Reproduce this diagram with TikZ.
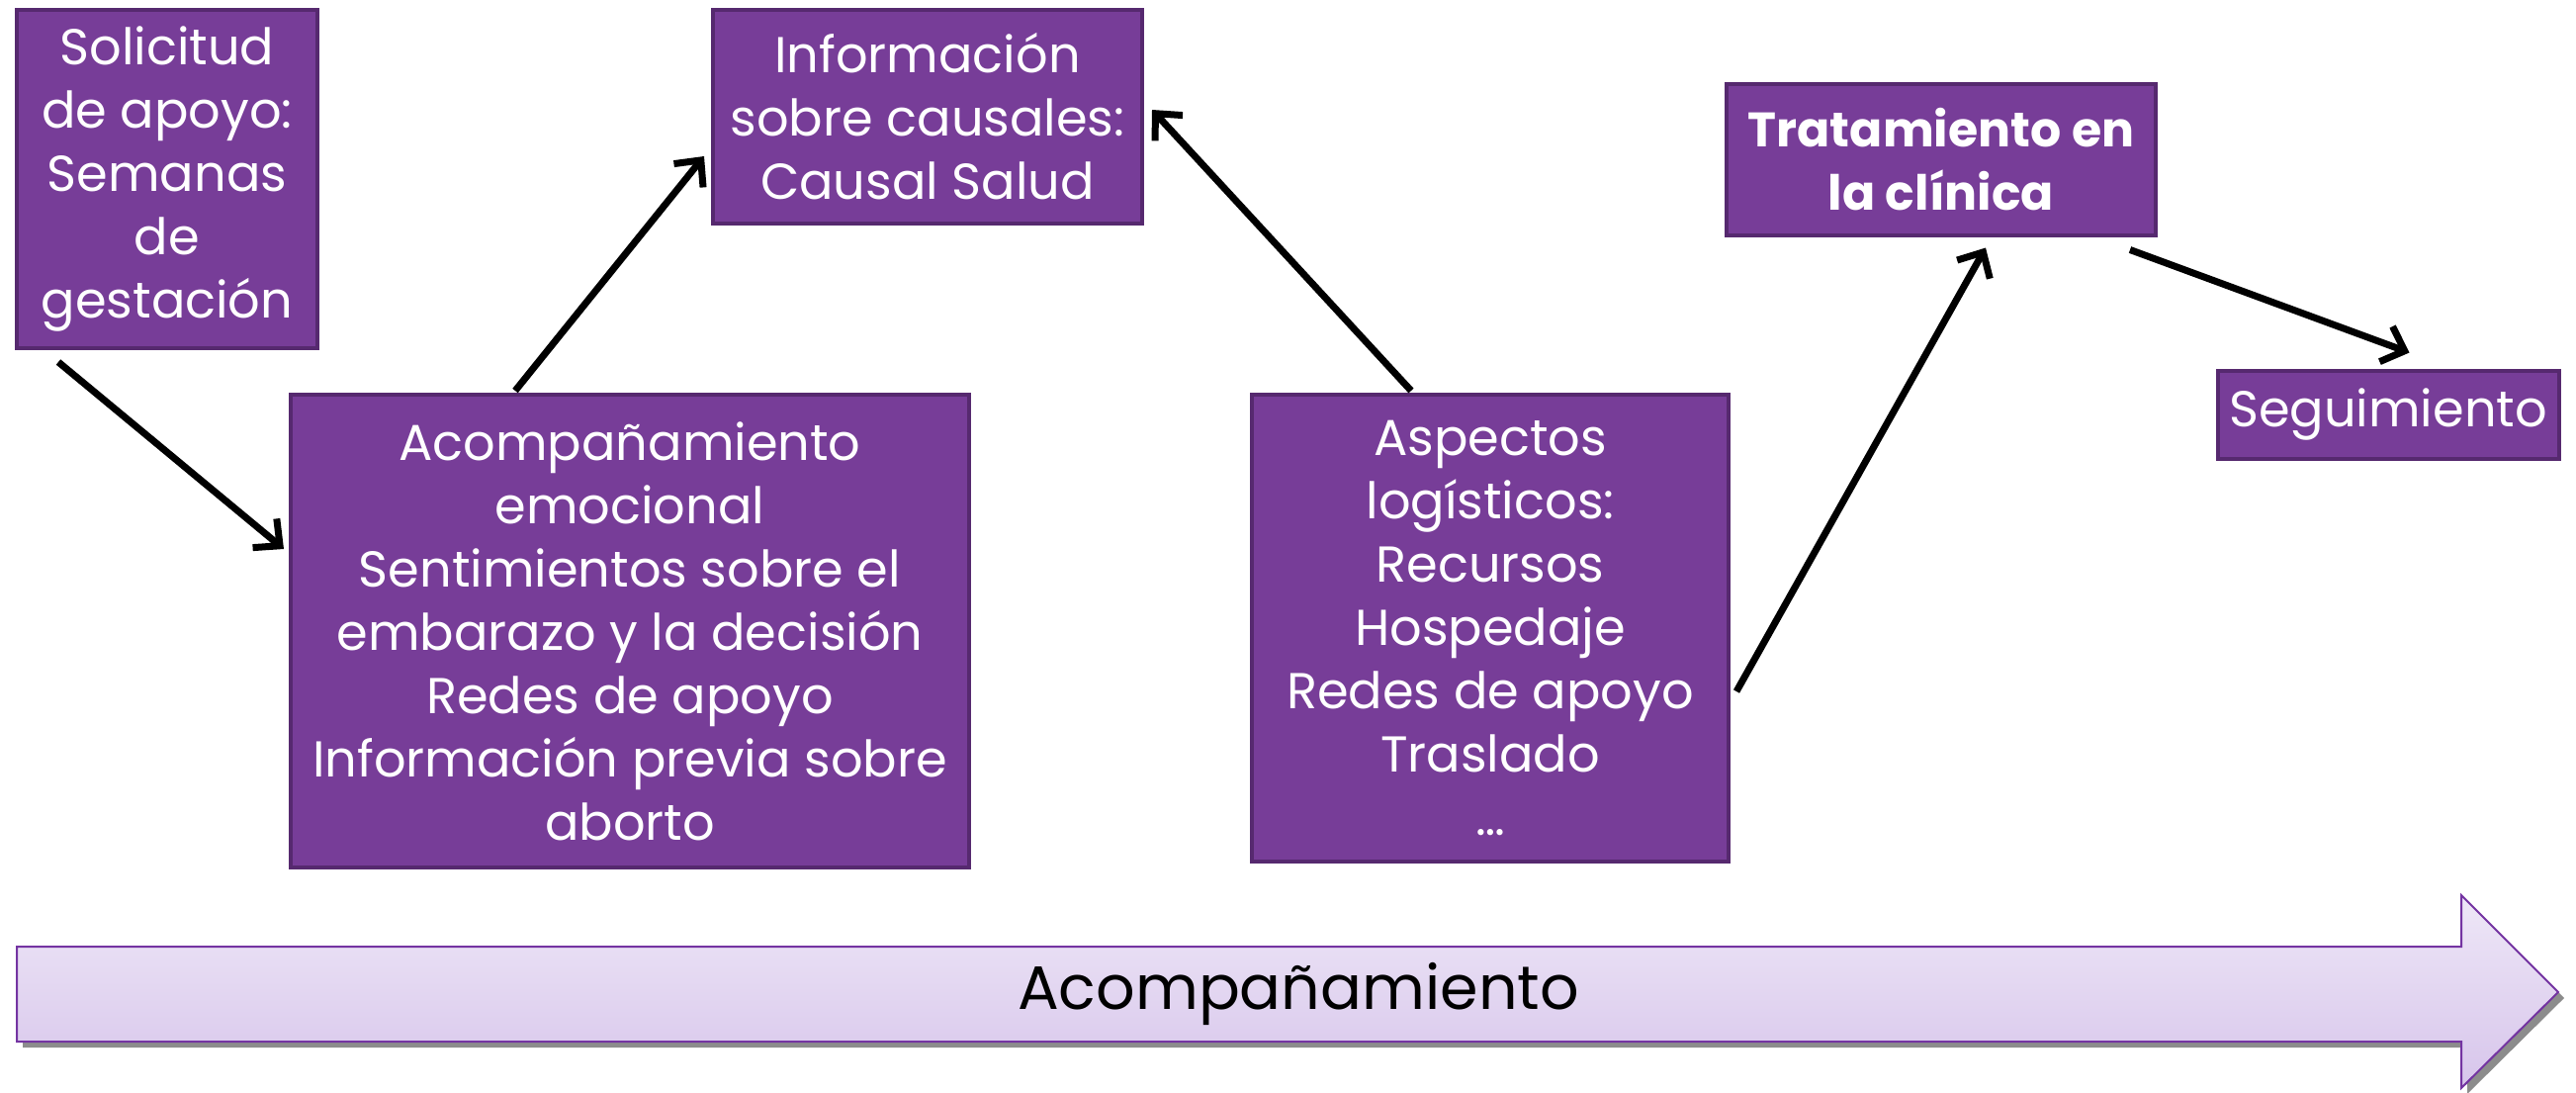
\documentclass[tikz,border=0pt]{standalone}
\usepackage{fontspec}
\setmainfont{Poppins}
\usetikzlibrary{arrows.meta,calc,shadows}
\definecolor{boxfill}{HTML}{773D98}
\definecolor{boxline}{HTML}{56296F}
\definecolor{arrtop}{HTML}{EEE7F7}
\definecolor{arrbot}{HTML}{D7C5EB}
\definecolor{arrline}{HTML}{7434A2}
\tikzset{
  box/.style={rectangle, fill=boxfill, draw=boxline, line width=4pt, text=white,
    align=center, inner sep=0pt, font=\fontsize{51}{64}\selectfont},
  conn/.style={line width=7pt, black, -{Straight Barb[length=20pt,width=38pt,line width=7pt]}},
}
\begin{document}
\begin{tikzpicture}[x=1pt,y=-1pt]
\useasboundingbox (0,0) rectangle (2605,1104);
\node[box, minimum width=304pt, minimum height=342pt] (b1) at (169,181)
  {Solicitud\\de apoyo:\\Semanas\\de\\gestación};
\node[box, minimum width=434pt, minimum height=216pt] (b2) at (938,118)
  {Información\\sobre causales:\\Causal Salud};
\node[box, minimum width=686pt, minimum height=478pt] (b3) at (637,638)
  {Acompañamiento\\emocional\\Sentimientos sobre el\\embarazo y la decisión\\Redes de apoyo\\Información previa sobre\\aborto};
\node[box, minimum width=482pt, minimum height=472pt] (b4) at (1507,635)
  {Aspectos\\logísticos:\\Recursos\\Hospedaje\\Redes de apoyo\\Traslado\\…};
\node[box, minimum width=434pt, minimum height=153pt, font=\fontsize{49}{64}\selectfont\bfseries] (b5) at (1963,161)
  {Tratamiento en\\la clínica};
\node[box, minimum width=345pt, minimum height=89pt] (b6) at (2415,419)
  {Seguimiento};
% big arrow
\path[fill=black!45] (23,963) -- (2495,963) -- (2495,911) -- (2593,1009) -- (2495,1106) -- (2495,1059) -- (23,1059) -- cycle;
\shade[top color=arrtop, bottom color=arrbot, draw=arrline, line width=2pt]
  (17,957) -- (2489,957) -- (2489,905) -- (2587,1003) -- (2489,1100) -- (2489,1053) -- (17,1053) -- cycle;
\node[font=\fontsize{62}{64}\selectfont, text=black] (acomp) at (1313,1005) {Acompañamiento};
% connectors
\draw[conn] ($(b1.south west)+(44,12)$) -- ($(b3.north west)+(-5,158)$);
\draw[conn] ($(b3.north west)+(229,-2)$) -- ($(b2.south west)+(-7,-70)$);
\draw[conn] ($(b4.north west)+(163,-2)$) -- ($(b2.north east)+(8,103)$);
\draw[conn] ($(b4.north east)+(6,302)$) -- ($(b5.south west)+(264,11)$);
\draw[conn] ($(b5.south east)+(-28,13)$) -- ($(b6.north west)+(196,-16)$);
\end{tikzpicture}
\end{document}
